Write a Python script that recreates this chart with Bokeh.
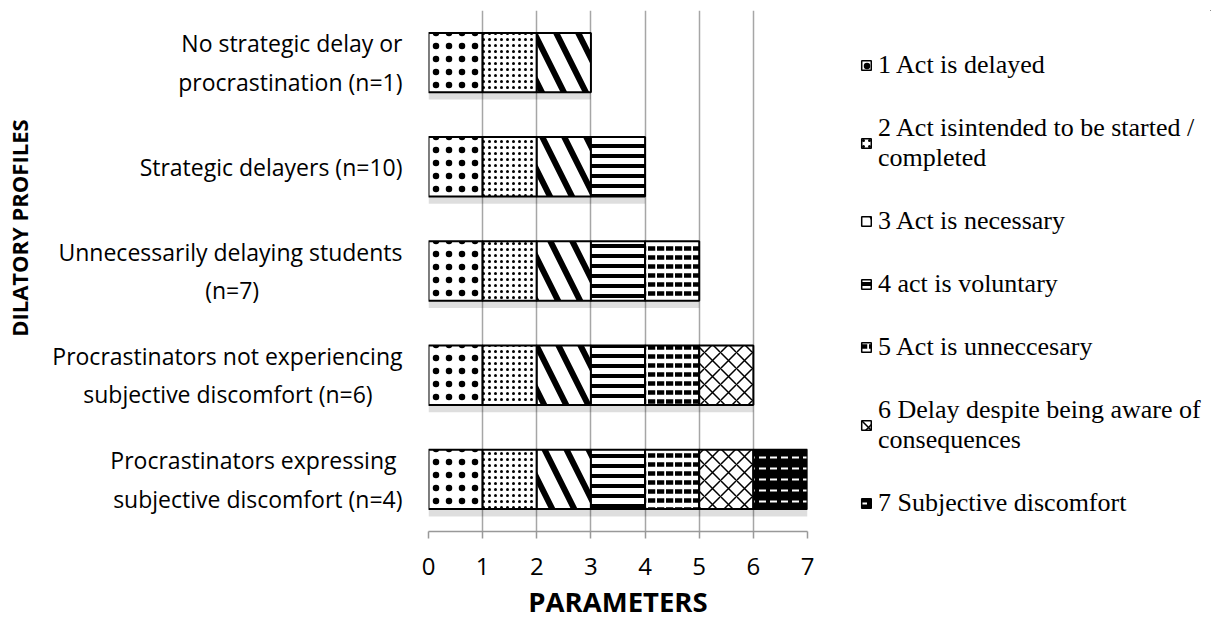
import numpy as np
from bokeh.plotting import figure
from bokeh.layouts import row
from bokeh.models import (ColumnDataSource, Legend, LegendItem, FactorRange,
                          Range1d, FixedTicker)
from bokeh.transform import dodge
from bokeh.embed import file_html
from bokeh.resources import INLINE

NB = "\u00a0"

# ---- data ----
profiles = [
    "No strategic delay or\nprocrastination (n=1)",
    "Strategic delayers (n=10)",
    "Unnecessarily delaying students\n(n=7)" + NB * 24,
    "Procrastinators not experiencing\nsubjective discomfort (n=6)" + NB * 5,
    "Procrastinators expressing" + NB + "\nsubjective discomfort (n=4)",
]
parameters = [
    "1 Act is delayed",
    "2 Act isintended to be started /\ncompleted",
    "3 Act is necessary",
    "4 act is voluntary",
    "5 Act is unneccesary",
    "6 Delay despite being aware of\nconsequences",
    "7 Subjective discomfort",
]
act_delayed = [1, 1, 1, 1, 1]
act_intended = [1, 1, 1, 1, 1]
act_necessary = [1, 1, 1, 1, 1]
act_voluntary = [0, 1, 1, 1, 1]
act_unnecessary = [0, 0, 1, 1, 1]
delay_aware = [0, 0, 0, 1, 1]
subjective_discomfort = [0, 0, 0, 0, 1]
x_ticks = [0, 1, 2, 3, 4, 5, 6, 7]

series = [act_delayed, act_intended, act_necessary, act_voluntary,
          act_unnecessary, delay_aware, subjective_discomfort]

styles = [
    dict(fill_color="white", hatch_pattern=".", hatch_scale=13, hatch_weight=1, hatch_color="black"),
    dict(fill_color="white", hatch_pattern=".", hatch_scale=6, hatch_weight=2, hatch_color="black"),
    dict(fill_color="white", hatch_pattern="\\", hatch_scale=44, hatch_weight=6, hatch_color="black"),
    dict(fill_color="white", hatch_pattern="-", hatch_scale=10, hatch_weight=4, hatch_color="black"),
    dict(fill_color="white", hatch_pattern='"', hatch_scale=9, hatch_weight=4.5, hatch_color="black"),
    dict(fill_color="white", hatch_pattern="x", hatch_scale=16, hatch_weight=1.5, hatch_color="black"),
    dict(fill_color="black", hatch_pattern='"', hatch_scale=11, hatch_weight=2, hatch_color="white"),
]

H = 622
TOP, BOTTOM = 10, 91

# ---- main chart ----
p = figure(width=820, height=H,
           y_range=FactorRange(factors=profiles[::-1], range_padding=0),
           x_range=Range1d(0, 7),
           output_backend="svg", toolbar_location=None,
           min_border_left=428, min_border_right=13,
           min_border_top=TOP, min_border_bottom=BOTTOM)

vals = np.array(series)
totals = vals.sum(axis=0)
cum = np.cumsum(vals, axis=0)

# soft shadow under the bars
shadow_src = ColumnDataSource(dict(profile=profiles, total=totals.tolist()))
p.hbar(y=dodge("profile", -0.07, range=p.y_range), left=0, right="total", height=0.57,
       source=shadow_src, fill_color="black", fill_alpha=0.13, line_color=None)

for i, (name, s) in enumerate(zip(parameters, series)):
    keep = [j for j, v in enumerate(s) if v > 0]
    src = ColumnDataSource(dict(
        profile=[profiles[j] for j in keep],
        left=[float(cum[i][j] - s[j]) for j in keep],
        right=[float(cum[i][j]) for j in keep],
    ))
    p.hbar(y="profile", left="left", right="right", height=0.57, source=src,
           line_color="black", line_width=2, **styles[i])

p.xaxis.ticker = FixedTicker(ticks=x_ticks)
p.xaxis.axis_line_color = "#999999"
p.xaxis.axis_line_width = 1.5
p.xaxis.major_tick_line_color = "#999999"
p.xaxis.major_tick_line_width = 1.5
p.xaxis.major_tick_out = 7
p.xaxis.major_tick_in = 0
p.xaxis.minor_tick_line_color = None
p.xaxis.major_label_text_font = "Open Sans"
p.xaxis.major_label_text_font_size = "24px"
p.xaxis.major_label_text_color = "black"
p.xaxis.major_label_standoff = 19
p.xaxis.axis_label = "PARAMETERS"
p.xaxis.axis_label_text_font = "Open Sans"
p.xaxis.axis_label_text_font_style = "bold"
p.xaxis.axis_label_text_font_size = "27.5px"
p.xaxis.axis_label_text_color = "black"
p.xaxis.axis_label_standoff = 5

p.yaxis.axis_line_color = None
p.yaxis.major_tick_line_color = None
p.yaxis.major_tick_out = 0
p.yaxis.major_tick_in = 0
p.yaxis.minor_tick_line_color = None
p.yaxis.major_label_text_font = "Open Sans"
p.yaxis.major_label_text_font_size = "23px"
p.yaxis.major_label_text_color = "black"
p.yaxis.major_label_standoff = 26
p.yaxis.axis_label = NB * 15 + "DILATORY PROFILES"
p.yaxis.axis_label_text_font = "Open Sans"
p.yaxis.axis_label_text_font_style = "bold"
p.yaxis.axis_label_text_font_size = "22px"
p.yaxis.axis_label_text_color = "black"
p.yaxis.axis_label_standoff = 15

p.xgrid.grid_line_color = "#a6a6a6"
p.xgrid.grid_line_width = 1.5
p.ygrid.grid_line_color = None
p.outline_line_color = None

# ---- legend panel (its frame is aligned with the chart frame) ----
lg = figure(width=391, height=H, x_range=Range1d(0, 1), y_range=Range1d(0, 1),
            x_axis_location=None, y_axis_location=None,
            output_backend="svg", toolbar_location=None,
            min_border_left=0, min_border_right=0,
            min_border_top=TOP, min_border_bottom=BOTTOM)
lg.grid.grid_line_color = None
lg.outline_line_color = None

items = []
for i, name in enumerate(parameters):
    dummy = ColumnDataSource(dict(y=[5.0], left=[5.0], right=[6.0]))
    r = lg.hbar(y="y", left="left", right="right", height=0.5, source=dummy,
                line_color="black", line_width=1.5, **styles[i])
    items.append(LegendItem(label=name, renderers=[r]))

legend = Legend(items=items, location="top_left",
                label_text_font="Liberation Serif", label_text_font_size="26px",
                label_text_color="black", label_text_line_height=1.25,
                glyph_width=12, glyph_height=12, label_standoff=6, spacing=33,
                padding=0, margin=40, border_line_color=None, background_fill_alpha=0)
lg.add_layout(legend)

open("out.html", "w").write(file_html(row(p, lg), INLINE))
